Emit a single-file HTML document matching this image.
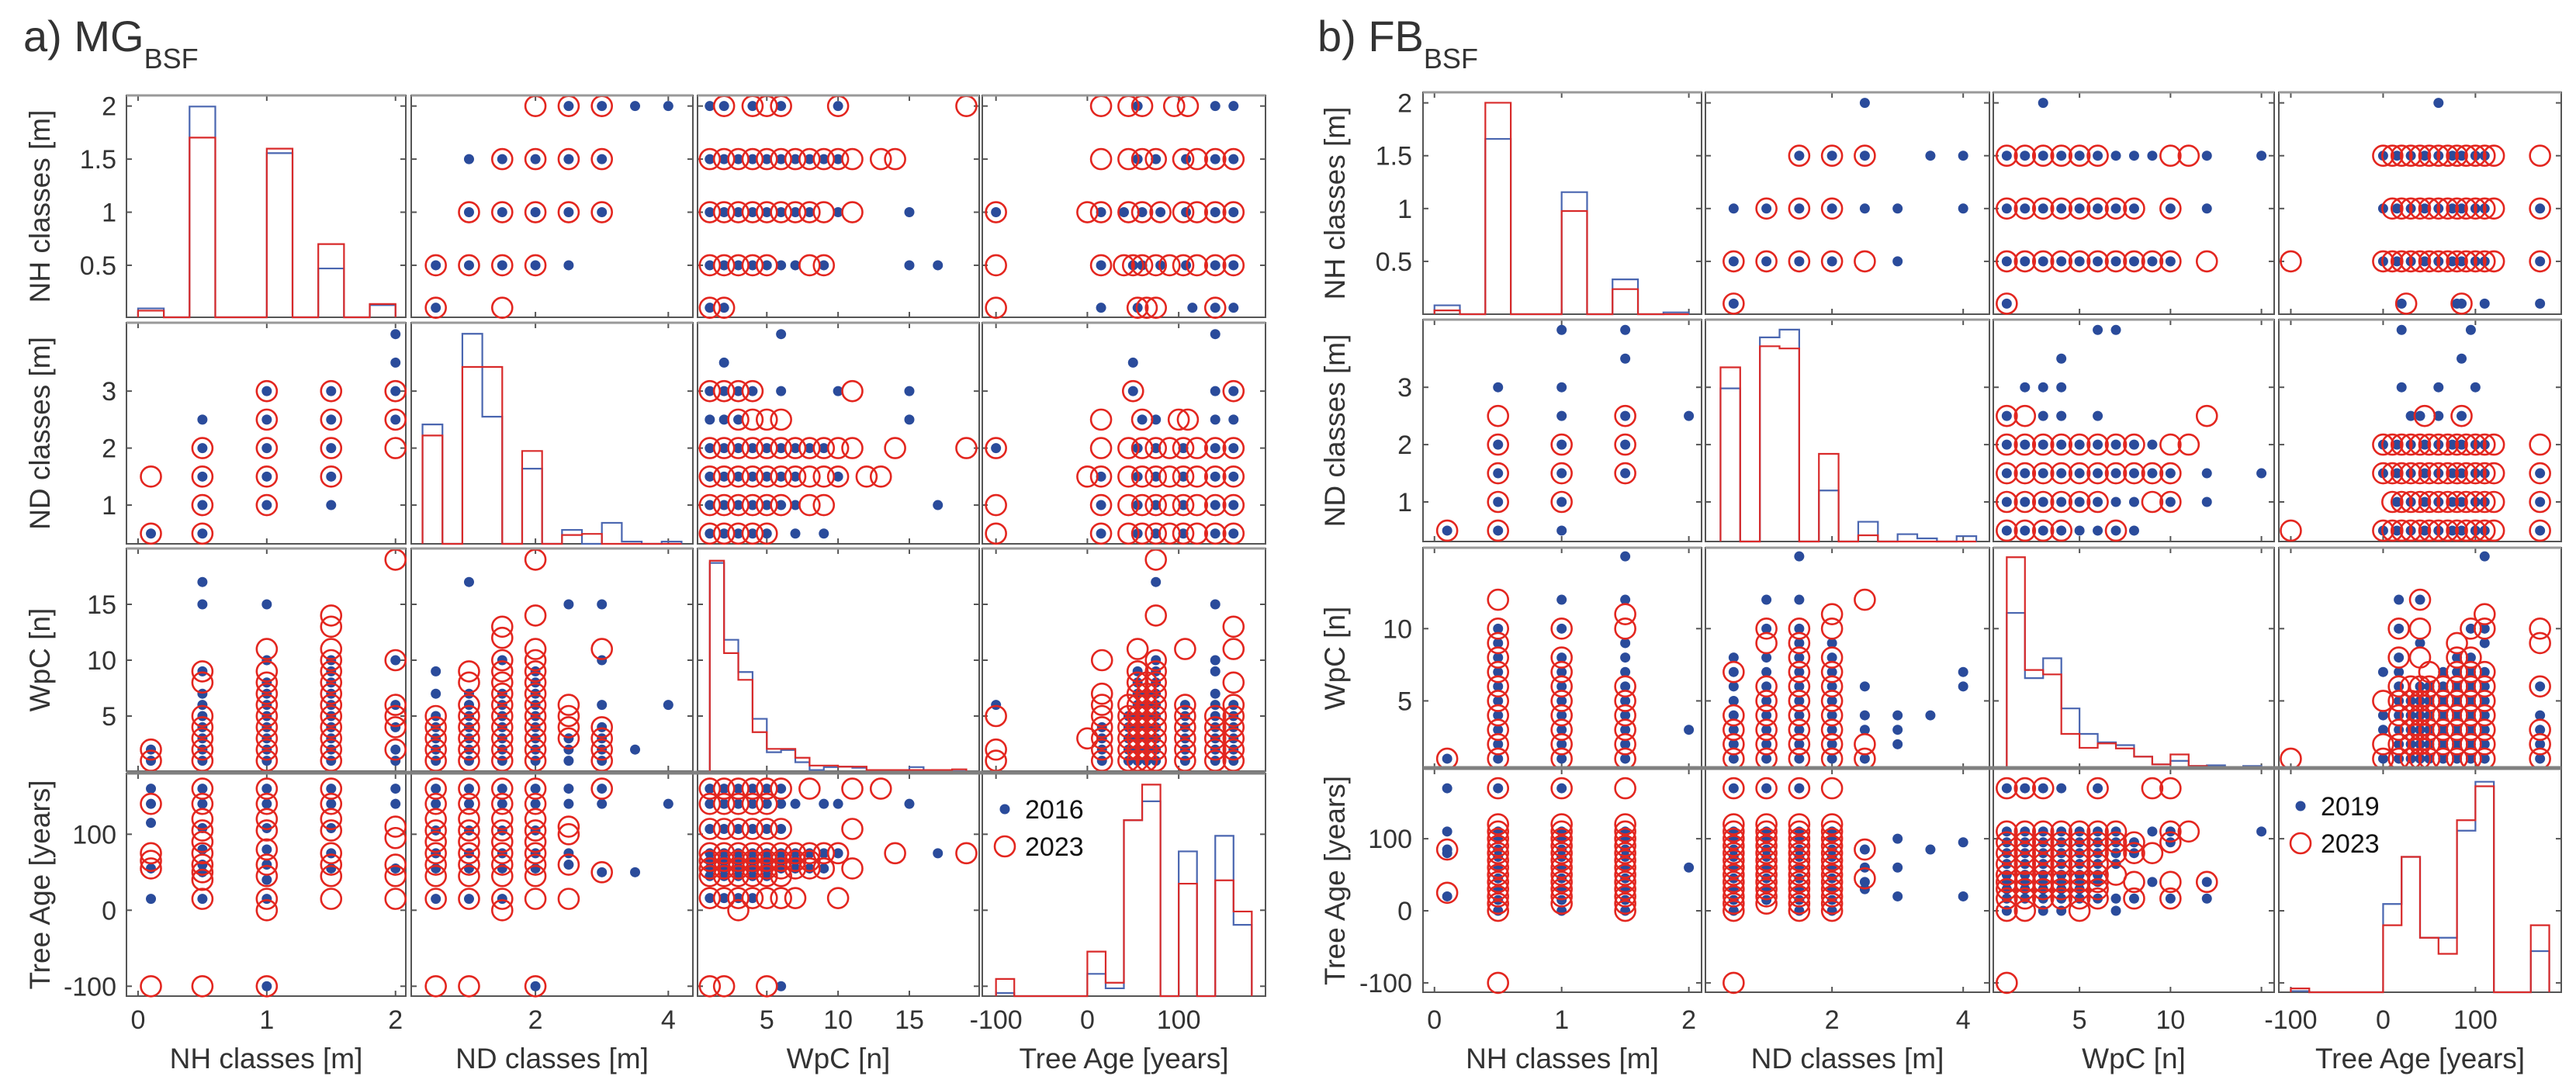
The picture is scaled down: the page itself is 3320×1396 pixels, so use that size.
<!DOCTYPE html>
<html><head><meta charset="utf-8"><title>Scatter matrix MG BSF / FB BSF</title>
<style>
html,body{margin:0;padding:0;background:#fff;}
svg{display:block;font-family:"Liberation Sans",Arial,sans-serif;}
</style></head>
<body>
<svg id="chart" width="3320" height="1396" viewBox="0 0 3320 1396" xmlns="http://www.w3.org/2000/svg">
<rect x="0" y="0" width="3320" height="1396" fill="#fff"/>
<text x="30" y="66" font-size="56" fill="#333">a) MG<tspan font-size="36" dy="22">BSF</tspan></text>
<text x="1698" y="66" font-size="56" fill="#333">b) FB<tspan font-size="36" dy="22">BSF</tspan></text>
</svg>
<script>
// ---------- data ----------
const varNames = ["NH classes [m]", "ND classes [m]", "WpC [n]", "Tree Age [years]"];
const yearsA = ["2016", "2023"];
const yearsB = ["2019", "2023"];
const R = (a,b)=>{const o=[];for(let i=a;i<=b;i++)o.push(i);return o;};

// histogram bin edges
const edgesNH = [0,0.2,0.4,0.6,0.8,1.0,1.2,1.4,1.6,1.8,2.0];
const edgesND = [0.3,0.6,0.9,1.2,1.5,1.8,2.1,2.4,2.7,3.0,3.3,3.6,3.9,4.2];
const edgesWpCA = R(1,19);
const edgesWpCB = R(1,15);
const edgesAge = [-100,-80,-60,-40,-20,0,20,40,60,80,100,120,140,160,180];

// histogram heights (fraction of panel height)
const histA_NH_blue = [0.04,0,0.95,0,0,0.74,0,0.22,0,0.055];
const histA_NH_red  = [0.03,0,0.81,0,0,0.76,0,0.33,0,0.06];
const histA_ND_blue = [0.54,0,0.95,0.575,0,0.34,0,0.063,0,0.095,0.01,0,0.01];
const histA_ND_red  = [0.49,0,0.80,0.80,0,0.42,0,0.04,0.045,0,0,0,0];
const histA_WpC_blue = [0.935,0.59,0.445,0.235,0.085,0.095,0.04,0.005,0.018,0.02,0.015,0.005,0.005,0.005,0.018,0.005,0,0];
const histA_WpC_red  = [0.945,0.53,0.41,0.175,0.1,0.1,0.06,0.025,0.025,0.02,0.02,0.005,0.005,0.005,0.005,0.005,0.005,0.008];
const histA_Age_blue = [0.014,0,0,0,0,0.1,0.035,0.79,0.875,0,0.65,0,0.72,0.32];
const histA_Age_red  = [0.077,0,0,0,0,0.2,0.06,0.79,0.95,0,0.505,0,0.52,0.38];

const histB_NH_blue = [0.04,0,0.79,0,0,0.55,0,0.157,0,0.008];
const histB_NH_red  = [0.017,0,0.953,0,0,0.465,0,0.113,0,0];
const histB_ND_blue = [0.69,0,0.92,0.955,0,0.23,0,0.089,0,0.033,0.014,0,0.024];
const histB_ND_red  = [0.785,0,0.88,0.87,0,0.395,0,0.028,0,0,0,0,0];
const histB_WpC_blue = [0.705,0.41,0.5,0.273,0.158,0.12,0.107,0.055,0.02,0.036,0.013,0.016,0.008,0.013];
const histB_WpC_red  = [0.957,0.447,0.427,0.158,0.095,0.115,0.092,0.055,0.02,0.065,0.013,0.005,0.005,0];
const histB_Age_blue = [0.005,0,0,0,0,0.395,0.606,0.244,0.244,0.723,0.942,0,0,0.184];
const histB_Age_red  = [0.017,0,0,0,0,0.3,0.606,0.244,0.172,0.77,0.922,0,0,0.3];

// scatter pairs: groups of [key value, [other values]]
// panel a
const a_NH_ND_blue = [[0.1,[0.5]],[0.5,[0.5,1,1.5,2,2.5]],[1,[1,1.5,2,2.5,3]],[1.5,[1,1.5,2,2.5,3]],[2,[2.5,3,3.5,4]]];
const a_NH_ND_red  = [[0.1,[0.5,1.5]],[0.5,[0.5,1,1.5,2]],[1,[1,1.5,2,2.5,3]],[1.5,[1.5,2,2.5,3]],[2,[2,2.5,3]]];
const a_NH_WpC_blue = [[0.1,[1,2]],[0.5,[1,2,3,4,5,6,7,9,15,17]],[1,[1,2,3,4,5,6,7,8,10,15]],[1.5,[1,2,3,4,5,6,7,8,9,10]],[2,[1,2,4,6,10]]];
const a_NH_WpC_red  = [[0.1,[1,2]],[0.5,[1,2,3,4,5,8,9]],[1,[1,2,3,4,5,6,7,8,9,11]],[1.5,[1,2,3,4,5,6,7,8,9,10,11,13,14]],[2,[2,4,5,6,10,19]]];
const a_NH_Age_blue = [[0.1,[15,55,115,140,160]],[0.5,[15,50,60,80,108,140,160]],[1,[-100,15,40,60,80,108,140,160]],[1.5,[55,75,108,140,160]],[2,[55,140,160]]];
const a_NH_Age_red  = [[0.1,[-100,55,65,75,140]],[0.5,[-100,15,40,50,60,75,90,105,120,140,160]],[1,[-100,0,15,45,60,80,105,120,140,160]],[1.5,[15,45,60,75,105,120,140,160]],[2,[15,45,60,95,110]]];
const a_ND_WpC_blue = [[0.5,[1,2,3,4,5,7,9]],[1,[1,2,3,4,5,6,7,17]],[1.5,[1,2,3,4,5,6,7,10]],[2,[1,2,3,4,5,6,7,8,9]],[2.5,[1,2,3,15]],[3,[1,2,3,4,6,10,15]],[3.5,[2]],[4,[6]]];
const a_ND_WpC_red  = [[0.5,[1,2,3,4,5]],[1,[1,2,3,4,5,6,8,9]],[1.5,[1,2,3,4,5,6,7,8,9,10,12,13]],[2,[1,2,3,4,5,6,7,8,9,10,11,14,19]],[2.5,[3,4,5,6]],[3,[1,2,3,4,11]]];
const a_ND_Age_blue = [[0.5,[15,55,75,105,140,160]],[1,[15,55,75,105,140,160]],[1.5,[15,55,75,105,140,160]],[2,[-100,55,75,105,140,160]],[2.5,[60,75,140,160]],[3,[50,140,160]],[3.5,[50]],[4,[140]]];
const a_ND_Age_red  = [[0.5,[-100,15,45,60,75,90,105,120,140,160]],[1,[-100,15,45,60,75,90,105,120,140,160]],[1.5,[0,15,45,60,75,90,105,120,140,160]],[2,[-100,15,45,60,75,90,105,120,140,160]],[2.5,[15,60,100,110]],[3,[50,160]]];
// keyed by age -> WpC values
const a_Age_WpC_blue = [[160,R(1,6)],[140,[1,2,3,4,5,6,7,9,10,15]],[107,R(1,6)],[75,[1,2,3,4,5,6,7,8,9,10,17]],[65,R(1,7)],[55,R(1,9)],[45,R(1,5)],[16,R(1,4)],[-100,[6]]];
const a_Age_WpC_red  = [[160,[1,2,3,4,5,6,8,11,13]],[140,R(1,5)],[107,[1,2,3,4,5,6,11]],[75,[1,2,3,4,5,6,7,8,9,10,14,19]],[65,R(1,8)],[55,[1,2,3,4,5,6,7,8,9,11]],[45,R(1,6)],[16,[1,2,3,4,5,6,7,10]],[0,[3]],[-100,[1,2,5]]];

// panel b
const b_NH_ND_blue = [[0.1,[0.5]],[0.5,[0.5,1,1.5,2,3]],[1,[0.5,1,1.5,2,2.5,3,4]],[1.5,[1.5,2,2.5,3.5,4]],[2,[2.5]]];
const b_NH_ND_red  = [[0.1,[0.5]],[0.5,[0.5,1,1.5,2,2.5]],[1,[1,1.5,2]],[1.5,[1.5,2,2.5]]];
const b_NH_WpC_blue = [[0.1,[1]],[0.5,R(1,10)],[1,[1,2,3,4,5,6,7,8,10,12]],[1.5,[1,2,3,4,5,6,7,8,9,12,15]],[2,[3]]];
const b_NH_WpC_red  = [[0.1,[1]],[0.5,[1,2,3,4,5,6,7,8,9,10,12]],[1,[1,2,3,4,5,6,7,8,10]],[1.5,[1,2,3,4,5,6,10,11]]];
const b_NH_Age_blue = [[0.1,[20,80,85,110,170]],[0.5,[0,15,30,45,60,75,85,100,110,170]],[1,[0,15,30,45,60,75,85,100,110,170]],[1.5,[0,15,30,45,60,75,85,100,110]],[2,[60]]];
const b_NH_Age_red  = [[0.1,[25,85]],[0.5,[-100,0,10,20,30,40,50,60,70,80,90,100,110,120,170]],[1,[10,20,30,40,50,60,70,80,90,100,110,120,170]],[1.5,[0,10,20,30,40,50,60,70,80,90,100,110,120,170]]];
const b_ND_WpC_blue = [[0.5,R(1,8)],[1,[1,2,3,4,5,6,7,8,10,12]],[1.5,[1,2,3,4,5,6,7,8,9,10,12,15]],[2,R(1,9)],[2.5,[1,3,4,6]],[3,[2,3,4]],[3.5,[4]],[4,[6,7]]];
const b_ND_WpC_red  = [[0.5,[1,2,3,4,7]],[1,[1,2,3,4,5,6,9,10]],[1.5,R(1,10)],[2,[1,2,3,4,5,6,7,8,10,11]],[2.5,[1,2,12]]];
const b_ND_Age_blue = [[0.5,[0,15,30,45,60,75,85,100,110,170]],[1,[15,30,45,60,75,85,100,110,170]],[1.5,[0,15,30,45,60,75,85,100,110,170]],[2,[0,15,30,45,60,75,85,100,110]],[2.5,[30,40,60,85]],[3,[20,60,100]],[3.5,[85]],[4,[20,95]]];
const b_ND_Age_red  = [[0.5,[-100,0,10,20,30,40,50,60,70,80,90,100,110,120,170]],[1,[10,20,30,40,50,60,70,80,90,100,110,120,170]],[1.5,[0,10,20,30,40,50,60,70,80,90,100,110,120,170]],[2,[0,10,20,30,40,50,60,70,80,90,100,110,120,170]],[2.5,[45,85]]];
const b_Age_WpC_blue = [[170,[1,2,3,4,6]],[110,[1,2,3,4,5,6,7,9,10,15]],[95,[1,2,3,4,5,6,7,8,10]],[80,R(1,8)],[65,R(1,7)],[50,R(1,6)],[40,[1,2,3,4,5,6,9,12]],[30,R(1,5)],[17,[1,2,3,4,5,6,7,8,10,12]],[0,[1,3,4,7]]];
const b_Age_WpC_red  = [[170,[1,2,3,6,9,10]],[110,[1,2,3,4,5,6,7,10,11]],[95,[1,2,3,4,5,6,7,8,10]],[80,R(1,9)],[65,R(1,6)],[50,R(1,7)],[40,[1,2,3,4,5,6,8,10,12]],[30,R(1,6)],[17,[1,2,3,4,5,6,8,10]],[0,[1,2,5]],[-100,[1]]];

// tick values
const ticksNHx = [0,1,2], ticksNHy = [0.5,1,1.5,2];
const ticksNDx = [2,4], ticksNDy = [1,2,3];
const ticksWpCA = [5,10,15], ticksWpCBx = [5,10,15], ticksWpCBlab = [5,10], ticksWpCBy = [5,10];
const ticksAge = [-100,0,100];

// ---------- layout (not data) ----------
const NS = "http://www.w3.org/2000/svg";
const svg = document.getElementById("chart");
function el(tag, attrs, parent){const e=document.createElementNS(NS,tag);for(const k in attrs)e.setAttribute(k,attrs[k]);(parent||svg).appendChild(e);return e;}

const panels = {
  a: {
    colL:[163,530,899,1266], colR:[523,893,1262,1631],
    rowT:[123,416,707,997], rowB:[409,701,994,1284],
    xr:[[-0.09,2.08],[0.13,4.37],[0.14,19.9],[-115,195]],
    yr:[[0.01,2.1],[0.32,4.2],[0.07,20],[-113,180]],
    xt:[ticksNHx,ticksNDx,ticksWpCA,ticksAge], xl:[ticksNHx,ticksNDx,ticksWpCA,ticksAge],
    yt:[ticksNHy,ticksNDy,ticksWpCA,ticksAge],
    edges:[edgesNH,edgesND,edgesWpCA,edgesAge],
    hb:[histA_NH_blue,histA_ND_blue,histA_WpC_blue,histA_Age_blue],
    hr:[histA_NH_red,histA_ND_red,histA_WpC_red,histA_Age_red],
    pairs:{"01":[a_NH_ND_blue,a_NH_ND_red,false],"02":[a_NH_WpC_blue,a_NH_WpC_red,false],"03":[a_NH_Age_blue,a_NH_Age_red,false],
           "12":[a_ND_WpC_blue,a_ND_WpC_red,false],"13":[a_ND_Age_blue,a_ND_Age_red,false],"23":[a_Age_WpC_blue,a_Age_WpC_red,true]},
    ylabX:54, tickR:150, years:yearsA, leg:[1295,1043]
  },
  b: {
    colL:[1834,2198,2569,2937], colR:[2193,2564,2931,3301],
    rowT:[119,412,706,991], rowB:[405,698,991,1279],
    xr:[[-0.09,2.1],[0.07,4.4],[0.26,15.7],[-113,193]],
    yr:[[0.0,2.1],[0.31,4.18],[0.3,15.6],[-113,197]],
    xt:[ticksNHx,ticksNDx,ticksWpCBx,ticksAge], xl:[ticksNHx,ticksNDx,ticksWpCBlab,ticksAge],
    yt:[ticksNHy,ticksNDy,ticksWpCBy,ticksAge],
    edges:[edgesNH,edgesND,edgesWpCB,edgesAge],
    hb:[histB_NH_blue,histB_ND_blue,histB_WpC_blue,histB_Age_blue],
    hr:[histB_NH_red,histB_ND_red,histB_WpC_red,histB_Age_red],
    pairs:{"01":[b_NH_ND_blue,b_NH_ND_red,false],"02":[b_NH_WpC_blue,b_NH_WpC_red,false],"03":[b_NH_Age_blue,b_NH_Age_red,false],
           "12":[b_ND_WpC_blue,b_ND_WpC_red,false],"13":[b_ND_Age_blue,b_ND_Age_red,false],"23":[b_Age_WpC_blue,b_Age_WpC_red,true]},
    ylabX:1723, tickR:1820, years:yearsB, leg:[2965,1039]
  }
};
const BLUE="#2a4b9b", RED="#e3261f", HBLUE="#4a66b0", HRED="#d82a2a";
const shortNames=["nh","nd","wpc","age"];

function expand(groups, swapped){ // returns [[vi, vj]] (lower var index first)
  const out=[];
  groups.forEach(g=>g[1].forEach(v=>out.push(swapped?[v,g[0]]:[g[0],v])));
  return out;
}

for(const key of ["a","b"]){
  const P = panels[key];
  const g = el("g",{});
  
  
  for(let r=0;r<4;r++){
    for(let c=0;c<4;c++){
      const L=P.colL[c], Rr=P.colR[c], T=P.rowT[r], B=P.rowB[r];
      const xs = v => L + (v-P.xr[c][0])/(P.xr[c][1]-P.xr[c][0])*(Rr-L);
      const ys = v => B - (v-P.yr[r][0])/(P.yr[r][1]-P.yr[r][0])*(B-T);
      const pg = el("g",{},g);
      
      
      const box = el("rect",{x:L,y:T,width:Rr-L,height:B-T,fill:"#fff",stroke:"#555","stroke-width":2},pg);
      
      
      // ticks
      P.xt[c].forEach(t=>{const x=xs(t);
        el("line",{x1:x,y1:B,x2:x,y2:B-7,stroke:"#555","stroke-width":2},pg);
        el("line",{x1:x,y1:T,x2:x,y2:T+7,stroke:"#555","stroke-width":2},pg);});
      P.yt[r].forEach(t=>{const y=ys(t);
        el("line",{x1:L,y1:y,x2:L+7,y2:y,stroke:"#555","stroke-width":2},pg);
        el("line",{x1:Rr,y1:y,x2:Rr-7,y2:y,stroke:"#555","stroke-width":2},pg);});
      if(r===c){
        const edges=P.edges[c];
        [[P.hb[c],HBLUE,"blue"],[P.hr[c],HRED,"red"]].forEach(([vals,col,nm])=>{
          let d="M"+xs(edges[0])+","+B;
          vals.forEach((v,i)=>{const y=B-v*(B-T);d+=" L"+xs(edges[i])+","+y+" L"+xs(edges[i+1])+","+y;});
          d+=" L"+xs(edges[edges.length-1])+","+B;
          const p=el("path",{d:d,fill:"none",stroke:col,"stroke-width":2.2},pg);
          
          
        });
      } else {
        const i=Math.min(r,c), j=Math.max(r,c);
        const pr=P.pairs[""+i+j];
        const pts=[expand(pr[0],pr[2]),expand(pr[1],pr[2])];
        // x var = c, y var = r
        const toXY = p => (r<c) ? [p[1],p[0]] : [p[0],p[1]];
        pts[0].forEach(p=>{const q=toXY(p);
          const d=el("circle",{cx:xs(q[0]),cy:ys(q[1]),r:6.5,fill:BLUE},pg);
          
          });
        pts[1].forEach(p=>{const q=toXY(p);
          const d=el("circle",{cx:xs(q[0]),cy:ys(q[1]),r:13,fill:"none",stroke:RED,"stroke-width":2.6},pg);
          
          });
      }
      // grey top band
      el("line",{x1:L,y1:T,x2:Rr,y2:T,stroke:"#999","stroke-width":3},pg);
    }
  }
  // separator between row 3 and row 4
  const sep=el("line",{x1:P.colL[0],y1:P.rowT[3]-1,x2:P.colR[3],y2:P.rowT[3]-1,stroke:"#808080","stroke-width":5},g);
  
  
  // tick labels
  for(let r=0;r<4;r++){
    const T=P.rowT[r],B=P.rowB[r];
    const ys=v=>B-(v-P.yr[r][0])/(P.yr[r][1]-P.yr[r][0])*(B-T);
    P.yt[r].forEach(t=>{
      const tx=el("text",{x:P.tickR,y:ys(t)+12,"font-size":34,fill:"#333","text-anchor":"end"},g);
      tx.textContent=String(t);
      
      
    });
    const yl=el("text",{x:P.ylabX,y:(T+B)/2,"font-size":37,fill:"#333","text-anchor":"middle",transform:"rotate(-90 "+P.ylabX+" "+((T+B)/2)+")","dominant-baseline":"middle"},g);
    yl.textContent=varNames[r];
    
    
  }
  for(let c=0;c<4;c++){
    const L=P.colL[c],Rr=P.colR[c];
    const xs=v=>L+(v-P.xr[c][0])/(P.xr[c][1]-P.xr[c][0])*(Rr-L);
    P.xl[c].forEach(t=>{
      const tx=el("text",{x:xs(t),y:1326,"font-size":34,fill:"#333","text-anchor":"middle"},g);
      tx.textContent=String(t);
      
      
    });
    const xl=el("text",{x:(L+Rr)/2,y:1377,"font-size":37,fill:"#333","text-anchor":"middle"},g);
    xl.textContent=varNames[c];
    
    
  }
  // legend
  const lg=el("g",{},g);
  
  
  const [lx,ly]=P.leg;
  el("circle",{cx:lx,cy:ly,r:6.5,fill:BLUE},lg);
  const t1=el("text",{x:lx+26,y:ly+12,"font-size":34,fill:"#111"},lg);
  t1.textContent=P.years[0];
  
  
  el("circle",{cx:lx,cy:ly+48,r:13,fill:"none",stroke:RED,"stroke-width":2.6},lg);
  const t2=el("text",{x:lx+26,y:ly+60,"font-size":34,fill:"#111"},lg);
  t2.textContent=P.years[1];
  
  
}
</script>
</body></html>
